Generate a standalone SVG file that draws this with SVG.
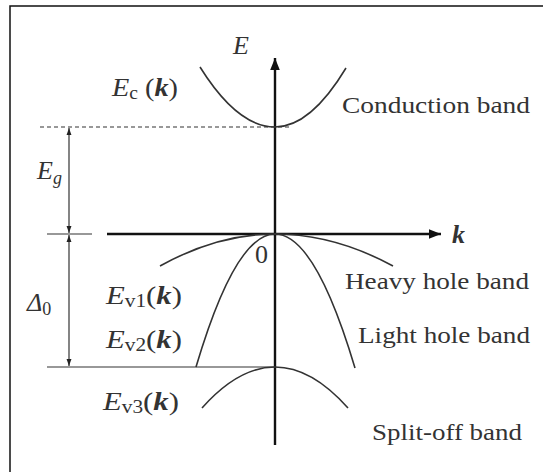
<svg xmlns="http://www.w3.org/2000/svg" width="543" height="472" viewBox="0 0 543 472">
<defs>
<marker id="ah" viewBox="0 0 10 10" refX="10" refY="5" markerWidth="7" markerHeight="7" markerUnits="userSpaceOnUse" orient="auto"><path d="M0,1.5 L10,5 L0,8.5 Z" fill="#222"/></marker>
<marker id="big" viewBox="0 0 10 10" refX="10" refY="5" markerWidth="14" markerHeight="12" markerUnits="userSpaceOnUse" orient="auto"><path d="M0,1 L10,5 L0,9 Z" fill="#111"/></marker>
<style>
.lbl{font-family:"Liberation Serif","Times New Roman",serif;font-size:24px;fill:#333}
.m{font-family:"Liberation Serif","Times New Roman",serif;font-size:26px;fill:#333}
.it{font-style:italic}
.bk{font-style:italic;font-weight:bold}
.band{fill:none;stroke:#333;stroke-width:1.6}
.axis{stroke:#111;stroke-width:2.4;fill:none}
.thin{stroke:#333;stroke-width:1.2;fill:none}
</style>
</defs>
<rect x="0" y="0" width="543" height="472" fill="#fff"/>
<rect x="10" y="6" width="545" height="480" fill="none" stroke="#111" stroke-width="1.5"/>

<g id="connectors">
<line class="axis" x1="275" y1="445" x2="275" y2="58" marker-end="url(#big)"/>
<line class="axis" x1="107" y1="234" x2="441" y2="234" marker-end="url(#big)"/>
<line x1="40" y1="127" x2="292" y2="127" stroke="#333" stroke-width="1.2" stroke-dasharray="4,3"/>
<line class="thin" x1="47" y1="234" x2="92" y2="234"/>
<line class="thin" x1="47" y1="367" x2="275" y2="367"/>
<line class="thin" x1="69" y1="180" x2="69" y2="128" marker-end="url(#ah)"/>
<line class="thin" x1="69" y1="180" x2="69" y2="233" marker-end="url(#ah)"/>
<line class="thin" x1="69" y1="300" x2="69" y2="235" marker-end="url(#ah)"/>
<line class="thin" x1="69" y1="300" x2="69" y2="366" marker-end="url(#ah)"/>
</g>

<g id="conduction-band">
<path class="band" d="M200,67 Q237.5,127 275,127 Q310.5,127 346,68"/>
<text class="m" x="112" y="96" textLength="66" lengthAdjust="spacingAndGlyphs"><tspan class="it">E</tspan><tspan font-size="18" dy="3">c</tspan><tspan dy="-3"> (</tspan><tspan class="bk">k</tspan>)</text>
<text class="lbl" x="342" y="113" textLength="188" lengthAdjust="spacingAndGlyphs">Conduction band</text>
</g>

<g id="heavy-hole-band">
<path class="band" d="M160,266 Q217.5,234 275,234 Q334,234 393,266"/>
<text class="m" x="106" y="304" textLength="76" lengthAdjust="spacingAndGlyphs"><tspan class="it">E</tspan><tspan font-size="18" dy="3">v1</tspan><tspan dy="-3">(</tspan><tspan class="bk">k</tspan>)</text>
<text class="lbl" x="345" y="289" textLength="184" lengthAdjust="spacingAndGlyphs">Heavy hole band</text>
</g>

<g id="light-hole-band">
<path class="band" d="M196,367 Q235.5,234 275,234 Q315,234 355,368"/>
<text class="m" x="106" y="348" textLength="76" lengthAdjust="spacingAndGlyphs"><tspan class="it">E</tspan><tspan font-size="18" dy="3">v2</tspan><tspan dy="-3">(</tspan><tspan class="bk">k</tspan>)</text>
<text class="lbl" x="358" y="343" textLength="172" lengthAdjust="spacingAndGlyphs">Light hole band</text>
</g>

<g id="split-off-band">
<path class="band" d="M202,408 Q238.5,367 275,367 Q311.5,367 348,408"/>
<text class="m" x="103" y="410" textLength="76" lengthAdjust="spacingAndGlyphs"><tspan class="it">E</tspan><tspan font-size="18" dy="3">v3</tspan><tspan dy="-3">(</tspan><tspan class="bk">k</tspan>)</text>
<text class="lbl" x="372" y="440" textLength="150" lengthAdjust="spacingAndGlyphs">Split-off band</text>
</g>

<g id="axis-labels">
<text class="m it" x="233" y="54">E</text>
<text class="m bk" x="452" y="243">k</text>
<text class="m" x="255" y="263" font-size="22">0</text>
<text class="m" x="37" y="179"><tspan class="it">E</tspan><tspan class="it" font-size="18" dy="5">g</tspan></text>
<text class="m" x="27" y="311"><tspan class="it">Δ</tspan><tspan font-size="18" dy="4">0</tspan></text>
</g>
</svg>
